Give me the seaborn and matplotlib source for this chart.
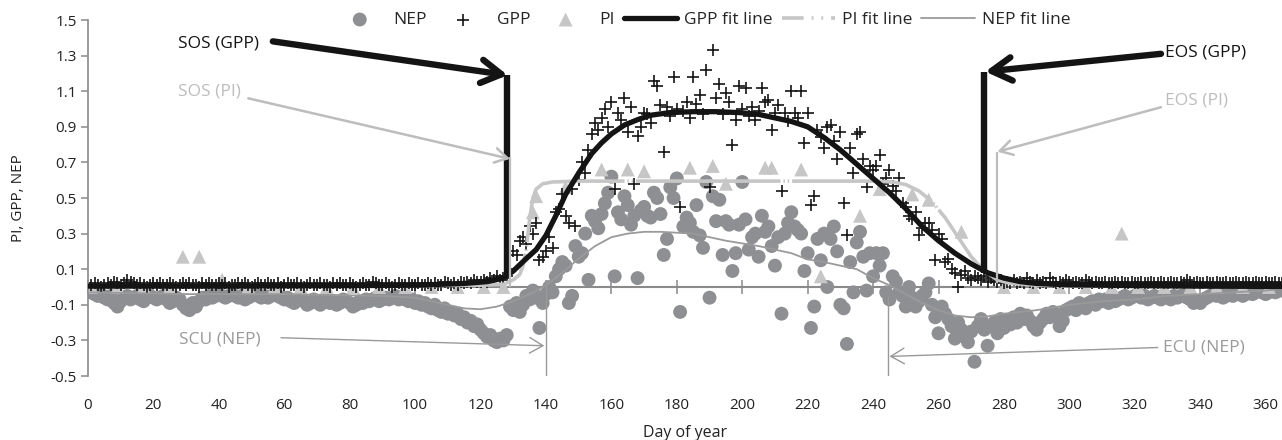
import numpy as np
import matplotlib
matplotlib.use("Agg")
import matplotlib.pyplot as plt
from matplotlib.lines import Line2D
import seaborn as sns

# ---------------- data ----------------
# daily NEP (day 1..365)
nep = [
    -0.03, -0.04, -0.05, -0.04, -0.06, -0.07, -0.05, -0.09, -0.11, -0.08,
    -0.06, -0.05, -0.07, -0.06, -0.05, -0.07, -0.08, -0.06, -0.05, -0.06,
    -0.07, -0.06, -0.05, -0.07, -0.09, -0.08, -0.06, -0.07, -0.10, -0.12,
    -0.13, -0.09, -0.11, -0.08, -0.06, -0.07, -0.05, -0.06, -0.05, -0.04,
    -0.05, -0.06, -0.05, -0.04, -0.05, -0.06, -0.05, -0.07, -0.06, -0.05,
    -0.04, -0.05, -0.06, -0.05, -0.06, -0.05, -0.04, -0.05, -0.06, -0.07,
    -0.06, -0.08, -0.09, -0.07, -0.06, -0.08, -0.10, -0.09, -0.07, -0.08,
    -0.10, -0.08, -0.07, -0.09, -0.08, -0.10, -0.09, -0.07, -0.08, -0.09,
    -0.11, -0.10, -0.08, -0.09, -0.07, -0.08, -0.07, -0.06, -0.08, -0.07,
    -0.06, -0.07, -0.06, -0.05, -0.07, -0.06, -0.07, -0.08, -0.07, -0.09,
    -0.08, -0.10, -0.09, -0.11, -0.12, -0.10, -0.13, -0.14, -0.12, -0.15,
    -0.14, -0.16, -0.15, -0.18, -0.17, -0.20, -0.19, -0.22, -0.21, -0.24,
    -0.26, -0.28, -0.27, -0.30, -0.31, -0.29, -0.30, -0.27, -0.11, -0.13,
    -0.09, -0.14, -0.10, -0.05, -0.07, -0.02, -0.06, -0.23, -0.09, -0.04,
    0.00, -0.03, 0.06, 0.10, 0.14, 0.12, -0.09, -0.05, 0.23, 0.17,
    0.19, 0.30, 0.04, 0.40, 0.37, 0.33, 0.41, 0.47, 0.53, 0.62,
    0.06, 0.42, 0.38, 0.51, 0.46, 0.35, 0.40, 0.05, 0.43, 0.45,
    0.40, 0.39, 0.53, 0.50, 0.41, 0.18, 0.27, 0.56, 0.50, 0.61,
    -0.14, 0.34, 0.39, 0.36, 0.31, 0.46, 0.29, 0.22, 0.59, -0.06,
    0.51, 0.37, 0.49, 0.18, 0.37, 0.35, 0.09, 0.19, 0.35, 0.59,
    0.38, 0.21, 0.28, 0.30, 0.17, 0.40, 0.31, 0.34, 0.23, 0.12,
    0.28, -0.15, 0.30, 0.36, 0.42, 0.34, 0.32, 0.30, 0.09, 0.19,
    -0.23, -0.11, 0.27, 0.15, 0.30, 0.00, 0.27, 0.34, 0.20, -0.10,
    -0.12, -0.32, 0.14, -0.03, 0.25, 0.31, 0.17, -0.02, 0.19, 0.06,
    0.19, 0.12, 0.19, -0.03, -0.07, 0.06, 0.03, -0.03, -0.05, -0.11,
    0.00, -0.06, -0.11, -0.08, -0.05, -0.03, 0.02, -0.10, -0.17, -0.26,
    -0.11, -0.15, -0.18, -0.22, -0.29, -0.20, -0.24, -0.28, -0.31, -0.25,
    -0.42, -0.22, -0.18, -0.24, -0.33, -0.22, -0.20, -0.26, -0.18, -0.23,
    -0.19, -0.21, -0.17, -0.20, -0.15, -0.18, -0.16, -0.19, -0.22, -0.24,
    -0.20, -0.18, -0.15, -0.17, -0.14, -0.15, -0.22, -0.19, -0.13, -0.12,
    -0.11, -0.13, -0.09, -0.10, -0.12, -0.09, -0.08, -0.10, -0.07, -0.08,
    -0.07, -0.09, -0.06, -0.08, -0.07, -0.06, -0.05, -0.07, -0.06, -0.05,
    -0.04, -0.06, -0.05, -0.07, -0.06, -0.05, -0.06, -0.07, -0.05, -0.06,
    -0.07, -0.05, -0.06, -0.05, -0.04, -0.06, -0.07, -0.09, -0.08, -0.09,
    -0.07, -0.06, -0.05, -0.04, -0.05, -0.04, -0.06, -0.05, -0.04, -0.05,
    -0.04, -0.03, -0.05, -0.04, -0.03, -0.04, -0.03, -0.02, -0.03, -0.04,
    -0.03, -0.02, -0.03, -0.02, -0.02,
]

# daily GPP (day 1..365)
gpp = [
    0.01, 0.02, 0.01, 0.00, 0.01, 0.02, 0.01, 0.03, 0.02, 0.01,
    0.02, 0.04, 0.03, 0.02, 0.01, 0.02, 0.01, 0.00, 0.01, 0.02,
    0.01, 0.02, 0.01, 0.01, 0.02, 0.01, 0.00, 0.01, 0.02, 0.01,
    0.02, 0.01, 0.01, 0.00, 0.02, 0.01, 0.02, 0.01, 0.01, 0.02,
    0.01, 0.02, 0.00, 0.01, 0.01, 0.02, 0.01, 0.02, 0.01, 0.00,
    0.01, 0.02, 0.01, 0.01, 0.02, 0.01, 0.01, 0.02, 0.00, 0.01,
    0.02, 0.01, 0.01, 0.02, 0.01, 0.00, 0.01, 0.02, 0.01, 0.01,
    0.02, 0.01, 0.01, 0.00, 0.02, 0.01, 0.02, 0.01, 0.01, 0.02,
    0.01, 0.00, 0.01, 0.02, 0.01, 0.01, 0.03, 0.02, 0.01, 0.01,
    0.02, 0.01, 0.00, 0.01, 0.02, 0.01, 0.01, 0.02, 0.01, 0.01,
    0.02, 0.01, 0.01, 0.02, 0.01, 0.02, 0.01, 0.01, 0.03, 0.02,
    0.01, 0.02, 0.01, 0.03, 0.02, 0.03, 0.02, 0.04, 0.03, 0.03,
    0.04, 0.03, 0.05, 0.04, 0.06, 0.04, 0.05, 0.06, 0.10, 0.20,
    0.18, 0.26, 0.28, 0.24, 0.34, 0.30, 0.36, 0.15, 0.17, 0.20,
    0.28, 0.22, 0.42, 0.44, 0.52, 0.40, 0.36, 0.55, 0.34, 0.60,
    0.70, 0.64, 0.77, 0.86, 0.92, 0.88, 0.95, 1.00, 0.90, 1.04,
    0.55, 0.98, 0.94, 1.06, 0.87, 1.01, 0.58, 0.85, 0.90, 0.98,
    0.97, 0.92, 1.16, 1.13, 1.02, 0.76, 1.01, 0.96, 1.18, 1.00,
    0.45, 0.99, 1.04, 0.95, 1.18, 1.03, 1.08, 0.97, 1.22, 0.56,
    1.33, 1.06, 1.14, 0.97, 1.09, 1.04, 0.80, 0.94, 1.13, 1.00,
    1.12, 0.96, 1.01, 0.94, 0.99, 1.12, 1.04, 1.05, 0.88, 0.98,
    1.02, 0.54, 0.98, 0.93, 1.10, 0.98, 0.95, 1.10, 0.81, 0.98,
    0.46, 0.51, 0.88, 0.84, 0.78, 0.90, 0.91, 0.82, 0.72, 0.87,
    0.47, 0.29, 0.78, 0.64, 0.86, 0.87, 0.72, 0.56, 0.68, 0.66,
    0.68, 0.74, 0.58, 0.61, 0.66, 0.57, 0.54, 0.61, 0.47, 0.45,
    0.40, 0.38, 0.42, 0.29, 0.33, 0.36, 0.36, 0.32, 0.15, 0.30,
    0.27, 0.14, 0.16, 0.10, 0.08, 0.00, 0.07, 0.09, 0.05, 0.04,
    0.06, 0.05, 0.04, 0.06, 0.03, 0.05, 0.04, 0.03, 0.04, 0.02,
    0.03, 0.02, 0.04, 0.02, 0.03, 0.02, 0.05, 0.03, 0.02, 0.04,
    0.02, 0.03, 0.02, 0.05, 0.03, 0.02, 0.03, 0.02, 0.04, 0.03,
    0.02, 0.03, 0.02, 0.02, 0.04, 0.03, 0.02, 0.03, 0.02, 0.02,
    0.03, 0.02, 0.02, 0.03, 0.02, 0.03, 0.02, 0.02, 0.03, 0.02,
    0.02, 0.03, 0.02, 0.02, 0.03, 0.02, 0.02, 0.03, 0.02, 0.02,
    0.03, 0.02, 0.02, 0.03, 0.02, 0.04, 0.03, 0.02, 0.03, 0.02,
    0.02, 0.03, 0.02, 0.02, 0.03, 0.02, 0.02, 0.03, 0.02, 0.02,
    0.03, 0.02, 0.02, 0.03, 0.02, 0.02, 0.03, 0.02, 0.02, 0.03,
    0.02, 0.02, 0.03, 0.02, 0.02,
]

# PI observations
pi_days = [1, 9, 17, 25, 29, 34, 41, 49, 57, 65, 73, 81, 89, 97, 105, 113, 121, 127,
           136, 137, 146, 157, 165, 170, 184, 191, 195, 207, 209, 218, 224, 236, 242,
           252, 257, 267, 280, 289, 297, 305, 313, 316, 321, 329, 337, 345, 353, 361]
pi_vals = [0.0, 0.0, 0.0, 0.0, 0.17, 0.17, 0.04, 0.0, 0.0, 0.0, 0.0, 0.0, 0.0, 0.0, 0.0, 0.0, 0.0, 0.0,
           0.42, 0.51, 0.56, 0.66, 0.66, 0.65, 0.67, 0.68, 0.58, 0.67, 0.67, 0.66, 0.06, 0.40, 0.55,
           0.52, 0.49, 0.31, 0.0, 0.0, 0.0, 0.0, 0.0, 0.30, 0.0, 0.0, 0.0, 0.0, 0.0, 0.0]

# fitted curves
gpp_fit_days = [0, 40, 80, 100, 115, 122, 127, 130, 134, 137, 140, 143, 146, 150, 154, 157,
                160, 164, 168, 172, 178, 185, 192, 199, 205, 210, 215, 220, 225, 230, 235,
                240, 245, 250, 255, 260, 265, 270, 275, 280, 285, 290, 300, 320, 340, 365]
gpp_fit_vals = [0.005, 0.005, 0.008, 0.01, 0.02, 0.03, 0.05, 0.09, 0.16, 0.21, 0.29, 0.40,
                0.52, 0.64, 0.75, 0.81, 0.86, 0.91, 0.94, 0.965, 0.98, 0.985, 0.985, 0.98,
                0.97, 0.95, 0.93, 0.90, 0.84, 0.77, 0.69, 0.61, 0.53, 0.44, 0.34, 0.26, 0.19,
                0.13, 0.08, 0.05, 0.03, 0.02, 0.012, 0.008, 0.005, 0.003]

pi_fit_days = [0, 60, 120, 127, 130, 132, 133, 134, 135, 136, 137, 139, 142, 150, 200, 240,
               246, 250, 254, 258, 262, 266, 270, 274, 278, 282, 290, 300, 330, 365]
pi_fit_vals = [0.005, 0.005, 0.01, 0.015, 0.04, 0.07, 0.12, 0.22, 0.38, 0.50, 0.55, 0.58,
               0.59, 0.595, 0.595, 0.595, 0.59, 0.575, 0.54, 0.48, 0.39, 0.28, 0.17, 0.09,
               0.04, 0.02, 0.01, 0.005, 0.003, 0.0]

nep_fit_days = [0, 30, 60, 90, 100, 105, 110, 115, 120, 125, 130, 135, 140, 145, 150, 155,
                160, 165, 170, 175, 180, 185, 190, 195, 200, 205, 210, 215, 220, 225, 230,
                235, 240, 245, 250, 255, 260, 265, 270, 275, 280, 290, 300, 310, 320, 330,
                340, 350, 360, 365]
nep_fit_vals = [-0.03, -0.04, -0.04, -0.05, -0.06, -0.08, -0.10, -0.12, -0.125, -0.11, -0.08,
                -0.04, 0.01, 0.08, 0.16, 0.23, 0.28, 0.30, 0.31, 0.31, 0.305, 0.30, 0.28,
                0.26, 0.245, 0.23, 0.21, 0.19, 0.155, 0.14, 0.12, 0.10, 0.05, 0.01, -0.04,
                -0.09, -0.13, -0.16, -0.17, -0.165, -0.15, -0.13, -0.10, -0.08, -0.07,
                -0.05, -0.04, -0.03, -0.02, -0.01]

# phenology annotations
ann_labels = ["SOS (GPP)", "EOS (GPP)", "SOS (PI)", "EOS (PI)", "SCU (NEP)", "ECU (NEP)"]
ann_day = [128, 274, 129, 278, 140, 244.5]           # date marked by the vertical line
ann_low = [0.06, 0.08, 0.0, 0.02, -0.5, -0.5]        # vertical line extent
ann_high = [1.19, 1.21, 0.73, 0.76, 0.04, -0.05]
ann_tip_xy = [(128.3, 1.19), (274.3, 1.21), (129, 0.72), (278, 0.76), (139.5, -0.33), (245, -0.39)]
ann_text_xy = [(39.8, 1.37), (341.7, 1.32), (37.2, 1.10), (338.8, 1.05), (40.2, -0.295), (341, -0.34)]
ann_tail_xy = [(56.5, 1.38), (328, 1.31), (49, 1.06), (328, 1.01), (59, -0.285), (327, -0.34)]

x_ticks = list(range(0, 361, 20))
y_ticks = [-0.5, -0.3, -0.1, 0.1, 0.3, 0.5, 0.7, 0.9, 1.1, 1.3, 1.5]

# ---------------- styling ----------------
sns.set_style("white")
plt.rcParams["font.family"] = ["Open Sans", "DejaVu Sans"]

c_nep = "#8e8f92"
c_pi = "#c6c6c6"
c_nepfit = "#9a9a9a"
c_axis = "#8a8a8a"
c_black = "#141414"
ann_color = [c_black, c_black, "#bdbdbd", "#bdbdbd", "#999999", "#999999"]
ann_lw = [4.6, 4.6, 1.6, 1.6, 1.0, 1.0]
ann_arrow_lw = [4.6, 4.6, 1.8, 1.8, 1.0, 1.0]
ann_head = [24, 24, 15, 15, 16, 16]

fig = plt.figure(figsize=(12.82, 4.40), dpi=100)
ax = fig.add_axes([88 / 1282, 64 / 440, 1194 / 1282, 356 / 440])

ymin, ymax = -0.5, 1.5
ax.set_xlim(0, 365)
ax.set_ylim(ymin, ymax)

days_nep = np.arange(1, len(nep) + 1)
days_gpp = np.arange(1, len(gpp) + 1)

sns.scatterplot(x=days_nep, y=nep, color=c_nep, s=100, edgecolor="none", marker="o",
                label="NEP", ax=ax, zorder=2)
sns.scatterplot(x=pi_days, y=pi_vals, color=c_pi, s=100, edgecolor="none", marker="^",
                label="PI", ax=ax, zorder=2.1)
sns.scatterplot(x=days_gpp, y=gpp, color=c_black, s=85, marker="+", linewidth=1.2,
                label="GPP", ax=ax, zorder=2.2)

sns.lineplot(x=nep_fit_days, y=nep_fit_vals, color=c_nepfit, lw=1.3, errorbar=None,
             label="NEP fit line", ax=ax, zorder=3)
sns.lineplot(x=pi_fit_days, y=pi_fit_vals, color=c_pi, lw=2.6, errorbar=None,
             linestyle=(0, (40, 0.8, 0.4, 0.8, 0.4, 0.8)),
             label="PI fit line", ax=ax, zorder=3.1)
sns.lineplot(x=gpp_fit_days, y=gpp_fit_vals, color=c_black, lw=3.8, errorbar=None,
             label="GPP fit line", ax=ax, zorder=3.2)

# phenology markers and arrows
for i, lab in enumerate(ann_labels):
    ax.vlines(ann_day[i], ann_low[i], ann_high[i], color=ann_color[i], lw=ann_lw[i], zorder=5)
    ax.annotate("", xy=ann_tip_xy[i], xytext=ann_tail_xy[i],
                arrowprops=dict(arrowstyle="->,head_length=0.6,head_width=0.35",
                                lw=ann_arrow_lw[i], color=ann_color[i],
                                shrinkA=0, shrinkB=0, mutation_scale=ann_head[i]),
                zorder=6)
    ax.text(ann_text_xy[i][0], ann_text_xy[i][1], lab, ha="center", va="center",
            color=ann_color[i], fontsize=12.5, zorder=6)

# axes decoration
for s in ["top", "right", "bottom"]:
    ax.spines[s].set_visible(False)
ax.spines["left"].set_color(c_axis)
ax.spines["left"].set_linewidth(1.2)

ax.set_yticks(y_ticks)
ax.set_yticklabels([f"{v:.1f}" for v in y_ticks])
ax.set_xticks(x_ticks)
ax.set_xticklabels([str(v) for v in x_ticks])
ax.tick_params(axis="y", direction="out", length=5, width=1.1, color=c_axis,
               pad=3, labelsize=11, labelcolor="#222222", left=True)
ax.tick_params(axis="x", length=0, pad=16, labelsize=11, labelcolor="#222222", bottom=True)

# horizontal axis crossing at zero
zero_loc = (0 - ymin) / (ymax - ymin)
sec = ax.secondary_xaxis(zero_loc)
sec.set_xticks(x_ticks)
sec.tick_params(axis="x", direction="inout", length=10, width=1.1, color=c_axis,
                labelbottom=False, labeltop=False)
for s in sec.spines.values():
    s.set_color(c_axis)
    s.set_linewidth(1.5)

ax.set_xlabel("Day of year", fontsize=11.5, color="#222222")
ax.set_ylabel("PI, GPP, NEP", fontsize=11, color="#222222")
ax.xaxis.set_label_coords(0.5, -0.138)
ax.yaxis.set_label_coords(-0.052, 0.5)

# legend
handles, labels = ax.get_legend_handles_labels()
hmap = dict(zip(labels, handles))
hmap["PI fit line"] = Line2D([], [], color=c_pi, lw=2.6,
                             linestyle=(0, (6, 2.2, 0.5, 2.2, 0.5, 2.2)))
order = ["NEP", "GPP", "PI", "GPP fit line", "PI fit line", "NEP fit line"]
ax.legend([hmap[k] for k in order], order, loc="center", bbox_to_anchor=(0.514, 1.0),
          ncol=6, frameon=False, handlelength=3.1, handletextpad=0.4,
          columnspacing=0.5, fontsize=12.5, borderaxespad=0)

fig.savefig("out.png", dpi=100)
